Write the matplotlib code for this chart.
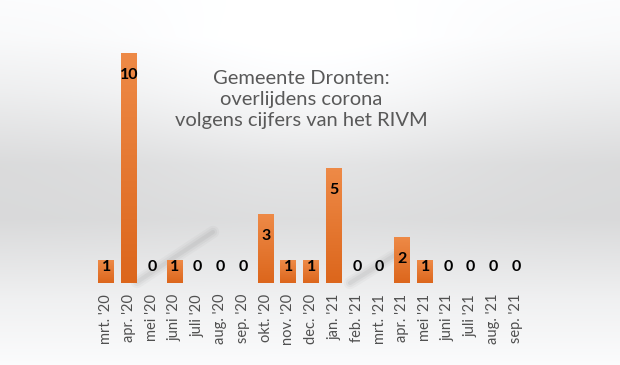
import numpy as np
import matplotlib
matplotlib.use("Agg")
import matplotlib.pyplot as plt
from matplotlib.colors import LinearSegmentedColormap

# data
months = ["mrt. '20", "apr. '20", "mei '20", "juni '20", "juli '20", "aug. '20",
          "sep. '20", "okt. '20", "nov. '20", "dec. '20", "jan. '21", "feb. '21",
          "mrt. '21", "apr. '21", "mei '21", "juni '21", "juli '21", "aug. '21",
          "sep. '21"]
deaths = [1, 10, 0, 1, 0, 0, 0, 3, 1, 1, 5, 0, 0, 2, 1, 0, 0, 0, 0]
title = "Gemeente Dronten:\noverlijdens corona\nvolgens cijfers van het RIVM"

plt.rcParams['font.family'] = ['Lato', 'DejaVu Sans']

fig = plt.figure(figsize=(6.2, 3.65), dpi=100)

# background: grey band fading to white at top and bottom
bg = fig.add_axes([0, 0, 1, 1])
ys = np.linspace(0, 1, 365)
prof = np.interp(ys, [0.0, 0.1, 0.25, 0.45, 0.6, 0.82, 1.0],
                 [0.985, 0.975, 0.93, 0.855, 0.85, 0.94, 0.985])
xs = np.linspace(-1, 1, 620)
light = 0.05 * np.exp(-(xs / 0.6) ** 2)
img = np.clip(prof[:, None] + light[None, :] * np.exp(-((ys[:, None] - 0.3) / 0.3) ** 2), 0, 1)
rgb = np.dstack([img, img * 1.002, img * 1.006])
bg.imshow(np.clip(rgb, 0, 1), aspect='auto', extent=[0, 1, 0, 1], origin='upper')

# faint diagonal reflections on the backdrop
for (x0, y0, x1, y1) in [(137 / 620, 1 - 282 / 365, 213 / 620, 1 - 232 / 365),
                         (350 / 620, 1 - 283 / 365, 395 / 620, 1 - 255 / 365)]:
    for lw, a in [(9, 0.03), (6, 0.04), (3, 0.05)]:
        bg.plot([x0, x1], [y0, y1], color='#303030', lw=lw, alpha=a,
                solid_capstyle='round')
bg.set_xlim(0, 1)
bg.set_ylim(0, 1)
bg.axis('off')

ax = fig.add_axes([0.153, 0.225, 0.698, 0.63])
ax.patch.set_alpha(0)
x = np.arange(len(months))
bars = ax.bar(x, deaths, width=0.7, color='#E5742A', zorder=2)

# vertical gradient on the bars
cmap = LinearSegmentedColormap.from_list('or', ['#DC661C', '#EE8A47'])
grad = np.linspace(0, 1, 256)[:, None]
for b in bars:
    h = b.get_height()
    if h <= 0:
        continue
    x0 = b.get_x()
    w = b.get_width()
    im = ax.imshow(grad, cmap=cmap, aspect='auto', origin='lower',
                   extent=[x0, x0 + w, 0, h], zorder=3)
    im.set_clip_path(b)

for xi, v in zip(x, deaths):
    ax.text(xi, max(v - 0.95, 0.7), str(v), ha='center', va='center',
            fontsize=11.5, fontweight='bold', color='black', zorder=4)

ax.set_xlim(-0.5, len(months) - 0.5)
ax.set_ylim(0, 10)
ax.set_xticks(x)
ax.set_xticklabels(months, rotation=90, fontsize=10.5, color='#505050')
ax.tick_params(axis='x', length=0, pad=8)
ax.set_yticks([])
for s in ax.spines.values():
    s.set_visible(False)

fig.text(0.486, 0.728, title, ha='center', va='center', fontsize=14.5,
         color='#595959', linespacing=1.3)

fig.savefig('out.png', dpi=100)
